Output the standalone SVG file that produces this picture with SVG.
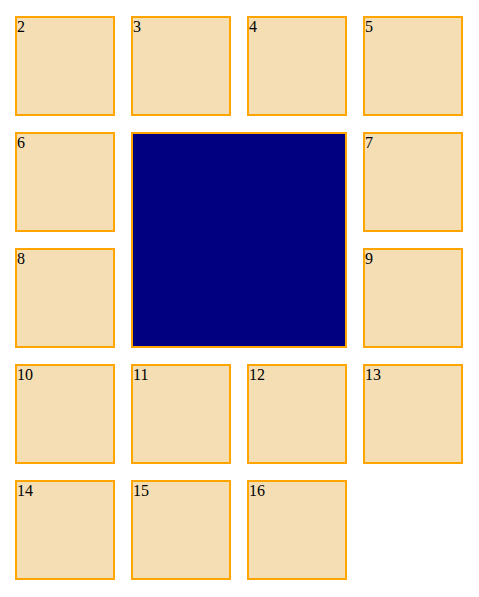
<svg xmlns="http://www.w3.org/2000/svg" width="479" height="597" viewBox="0 0 479 597">
<style>
.c rect{fill:#F5DEB3;stroke:#FFA500;stroke-width:2}
.c text{font-family:"Liberation Serif",serif;font-size:16px;fill:#000}
#big rect{fill:#000080;stroke:#FFA500;stroke-width:2}
</style>
<rect width="479" height="597" fill="#fff"/>
<g id="n2" class="c"><rect x="16" y="17" width="98" height="98"/><text x="17" y="32">2</text></g>
<g id="n3" class="c"><rect x="132" y="17" width="98" height="98"/><text x="133" y="32">3</text></g>
<g id="n4" class="c"><rect x="248" y="17" width="98" height="98"/><text x="249" y="32">4</text></g>
<g id="n5" class="c"><rect x="364" y="17" width="98" height="98"/><text x="365" y="32">5</text></g>
<g id="n6" class="c"><rect x="16" y="133" width="98" height="98"/><text x="17" y="148">6</text></g>
<g id="big"><rect x="132" y="133" width="214" height="214"/></g>
<g id="n7" class="c"><rect x="364" y="133" width="98" height="98"/><text x="365" y="148">7</text></g>
<g id="n8" class="c"><rect x="16" y="249" width="98" height="98"/><text x="17" y="264">8</text></g>
<g id="n9" class="c"><rect x="364" y="249" width="98" height="98"/><text x="365" y="264">9</text></g>
<g id="n10" class="c"><rect x="16" y="365" width="98" height="98"/><text x="17" y="380">10</text></g>
<g id="n11" class="c"><rect x="132" y="365" width="98" height="98"/><text x="133" y="380">11</text></g>
<g id="n12" class="c"><rect x="248" y="365" width="98" height="98"/><text x="249" y="380">12</text></g>
<g id="n13" class="c"><rect x="364" y="365" width="98" height="98"/><text x="365" y="380">13</text></g>
<g id="n14" class="c"><rect x="16" y="481" width="98" height="98"/><text x="17" y="496">14</text></g>
<g id="n15" class="c"><rect x="132" y="481" width="98" height="98"/><text x="133" y="496">15</text></g>
<g id="n16" class="c"><rect x="248" y="481" width="98" height="98"/><text x="249" y="496">16</text></g>
<g id="connectors"></g>
</svg>
